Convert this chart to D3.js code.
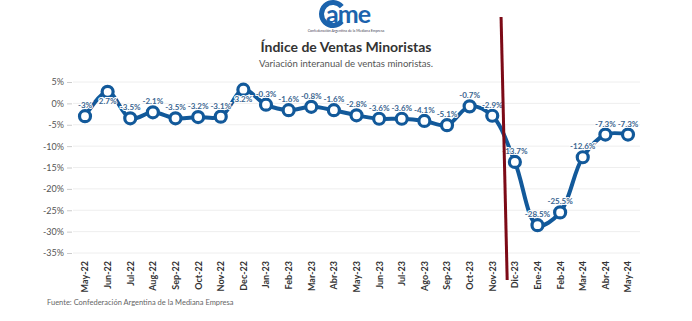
<!DOCTYPE html>
<html>
<head>
<meta charset="utf-8">
<script src="https://cdn.jsdelivr.net/npm/d3@7"></script>
<style>
  body { margin: 0; background: #fff; }
  svg { font-family: Lato, "Open Sans", sans-serif; }
</style>
</head>
<body>
<div id="chart"></div>
<script>
// months on the x axis
const months = ["May-22","Jun-22","Jul-22","Aug-22","Sep-22","Oct-22","Nov-22","Dec-22",
  "Jan-23","Feb-23","Mar-23","Abr-23","May-23","Jun-23","Jul-23","Ago-23","Sep-23","Oct-23","Nov-23",
  "Dic-23","Ene-24","Feb-24","Mar-24","Abr-24","May-24"];
// interannual variation, %
const values = [-3, 2.7, -3.5, -2.1, -3.5, -3.2, -3.1, 3.2,
  -0.3, -1.6, -0.8, -1.6, -2.8, -3.6, -3.6, -4.1, -5.1, -0.7, -2.9,
  -13.7, -28.5, -25.5, -12.6, -7.3, -7.3];
const yTicks = [5, 0, -5, -10, -15, -20, -25, -30, -35];

const width = 692, height = 321;
const blue = "#12599a";

const svg = d3.select("#chart").append("svg").attr("width", width).attr("height", height);

// logo
const logo = svg.append("g");
logo.append("path")
  .attr("d", d3.arc()({ innerRadius: 9, outerRadius: 14, startAngle: 0.7, endAngle: 2 * Math.PI - 0.7 }))
  .attr("transform", "translate(333,14) rotate(90)")
  .attr("fill", "#1b63ad");
logo.append("text").attr("x", 326).attr("y", 23).attr("font-size", 25).attr("font-weight", 700)
  .attr("fill", "#1b63ad").attr("letter-spacing", -1).text("ame");
logo.append("text").attr("x", 346).attr("y", 32).attr("text-anchor", "middle").attr("font-size", 3.6)
  .attr("fill", "#445").text("Confederación Argentina de la Mediana Empresa");

svg.append("text").attr("x", 346).attr("y", 52).attr("text-anchor", "middle")
  .attr("font-size", 14).attr("font-weight", 700).attr("fill", "#333")
  .text("Índice de Ventas Minoristas");
svg.append("text").attr("x", 346).attr("y", 67).attr("text-anchor", "middle")
  .attr("font-size", 9.6).attr("fill", "#555")
  .text("Variación interanual de ventas minoristas.");

const x = d3.scalePoint().domain(months).range([85, 628]);
const y = d3.scaleLinear().domain([-35, 5]).range([253, 82]);

// grid
svg.append("g").selectAll("line").data(yTicks).enter().append("line")
  .attr("x1", 73).attr("x2", 640)
  .attr("y1", d => y(d)).attr("y2", d => y(d))
  .attr("stroke", "#eeeeee").attr("stroke-width", 1);

// y axis
const yAxis = svg.append("g").attr("transform", "translate(72,0)")
  .call(d3.axisLeft(y).tickValues(yTicks).tickSize(5).tickPadding(3).tickFormat(d => d + "%"));
yAxis.select(".domain").remove();
yAxis.selectAll("line").attr("stroke", "#ccc");
yAxis.selectAll("text").attr("font-size", 9).attr("fill", "#555").attr("font-family", "Lato, sans-serif");

// x axis
const xAxis = svg.append("g").attr("transform", "translate(0,258)")
  .call(d3.axisBottom(x).tickSize(0).tickPadding(0));
xAxis.select(".domain").remove();
xAxis.selectAll("text")
  .attr("transform", "rotate(-90)")
  .attr("text-anchor", "end")
  .attr("x", -3).attr("y", 0).attr("dy", "0.32em")
  .attr("font-size", 9).attr("font-weight", 700).attr("fill", "#333")
  .attr("font-family", "Lato, sans-serif");

// line
const line = d3.line()
  .x((d, i) => x(months[i]))
  .y(d => y(d))
  .curve(d3.curveCatmullRom.alpha(0.5));
svg.append("path").datum(values)
  .attr("d", line)
  .attr("fill", "none").attr("stroke", blue).attr("stroke-width", 4)
  .attr("stroke-linejoin", "round");

// markers
svg.append("g").selectAll("circle").data(values).enter().append("circle")
  .attr("cx", (d, i) => x(months[i]))
  .attr("cy", d => y(d))
  .attr("r", 5.5)
  .attr("fill", "#fff").attr("stroke", blue).attr("stroke-width", 3.2);

// value labels
svg.append("g").selectAll("text").data(values).enter().append("text")
  .attr("x", (d, i) => x(months[i]))
  .attr("y", d => y(d) + (d > 0 ? 12 : -8))
  .attr("text-anchor", "middle")
  .attr("font-size", 8).attr("font-weight", 700).attr("fill", "#3a6590")
  .attr("stroke", "#fff").attr("stroke-width", 2).attr("paint-order", "stroke")
  .text(d => d + "%");

// annotation line between Nov-23 and Dic-23
const step = x.step();
svg.append("line")
  .attr("x1", x("Nov-23") + step * 0.39).attr("y1", 17)
  .attr("x2", x("Nov-23") + step * 0.66).attr("y2", 280)
  .attr("stroke", "#7c0a16").attr("stroke-width", 3);

svg.append("text").attr("x", 47).attr("y", 305)
  .attr("font-size", 7.5).attr("fill", "#666")
  .text("Fuente: Confederación Argentina de la Mediana Empresa");
</script>
</body>
</html>
